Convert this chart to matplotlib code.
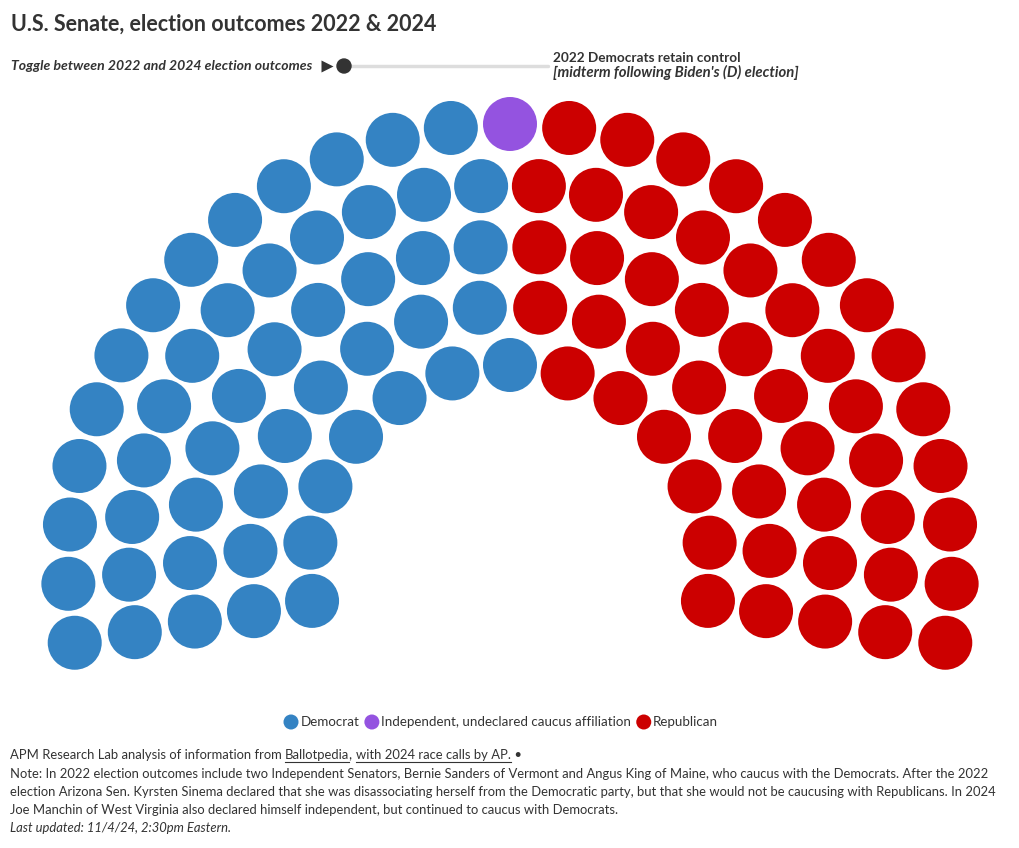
import numpy as np
import matplotlib.pyplot as plt
from matplotlib.patches import Circle

# Seat counts (2022 outcome)
parties = ['Democrat', 'Independent, undeclared caucus affiliation', 'Republican']
seats = [50, 1, 49]
colors = ['#3483c3', '#9453e0', '#cc0000']

# seats per row of the hemicycle, inner to outer
row_seats = [13, 16, 20, 24, 27]
row_radius = [201, 260, 320, 381, 442]

title = 'U.S. Senate, election outcomes 2022 & 2024'
toggle_label = 'Toggle between 2022 and 2024 election outcomes'
state_title = '2022 Democrats retain control'
state_sub = "[midterm following Biden's (D) election]"
note_lines = [
    'Note: In 2022 election outcomes include two Independent Senators, Bernie Sanders of Vermont and Angus King of Maine, who caucus with the Democrats. After the 2022',
    'election Arizona Sen. Kyrsten Sinema declared that she was disassociating herself from the Democratic party, but that she would not be caucusing with Republicans. In 2024',
    'Joe Manchin of West Virginia also declared himself independent, but continued to caucus with Democrats.',
]
updated = 'Last updated: 11/4/24, 2:30pm Eastern.'

plt.rcParams['font.family'] = ['Lato', 'DejaVu Sans']
txt = '#333333'

fig = plt.figure(figsize=(10.2, 8.48), dpi=100)
ax = fig.add_axes([0, 0, 1, 1])
ax.set_xlim(0, 1020)
ax.set_ylim(848, 0)
ax.axis('off')

# build seat positions: angle from 190 deg down to -10 deg
cx, cy = 510, 566
span_start, span_end = 190, -10
pos = []
for n, r in zip(row_seats, row_radius):
    for i in range(n):
        a = span_start + (span_end - span_start) * i / (n - 1)
        pos.append((round(a, 6), r))
pos.sort(key=lambda p: (-p[0], p[1]))

seat_colors = []
for c, k in zip(colors, seats):
    seat_colors += [c] * k

for (a, r), c in zip(pos, seat_colors):
    x = cx + r * np.cos(np.radians(a))
    y = cy - r * np.sin(np.radians(a))
    ax.add_patch(Circle((x, y), 27, color=c, lw=0))

# title and toggle
ax.text(11, 24, title, fontsize=15.5, fontweight='bold', color=txt, va='center')
ax.text(11, 66, toggle_label, fontsize=10.1, fontweight='bold', style='italic', color=txt, va='center')
ax.plot([327], [66], marker='>', ms=9, color=txt, mec='none')
ax.plot([344, 548], [66, 66], color='#dddddd', lw=2.5, solid_capstyle='round', zorder=1)
ax.add_patch(Circle((344, 66), 7, color=txt, zorder=2))
ax.text(553, 58, state_title, fontsize=9.8, fontweight='bold', color=txt, va='center')
ax.text(553, 72.5, state_sub, fontsize=10.7, fontweight='bold', style='italic', color=txt, va='center')

# legend
fig.canvas.draw()
renderer = fig.canvas.get_renderer()
inv = ax.transData.inverted()


def place(x, y, s, underline=False, **kw):
    t = ax.text(x, y, s, va='center', color=txt, **kw)
    bb = t.get_window_extent(renderer)
    x0 = inv.transform((bb.x0, bb.y0))[0]
    x1 = inv.transform((bb.x1, bb.y0))[0]
    if underline:
        ax.plot([x0, x1], [y + 7, y + 7], color=txt, lw=0.8)
    return x1


lx = 283.5
for p, c in zip(parties, colors):
    ax.add_patch(Circle((lx + 7.5, 722), 7.5, color=c, lw=0))
    lx = place(lx + 17, 722, p, fontsize=9.6) + 5

# footer
fs = 9.35
x = place(10, 755, 'APM Research Lab analysis of information from ', fontsize=fs)
x = place(x, 755, 'Ballotpedia', underline=True, fontsize=fs)
x = place(x, 755, ', ', fontsize=fs)
x = place(x, 755, 'with 2024 race calls by AP.', underline=True, fontsize=fs)
place(x, 755, ' \u2022', fontsize=fs)
for i, line in enumerate(note_lines):
    ax.text(10, 774 + 18.2 * i, line, fontsize=fs, color=txt, va='center')
ax.text(10, 828.5, updated, fontsize=fs, style='italic', color=txt, va='center')

fig.savefig('out.png', dpi=100)
